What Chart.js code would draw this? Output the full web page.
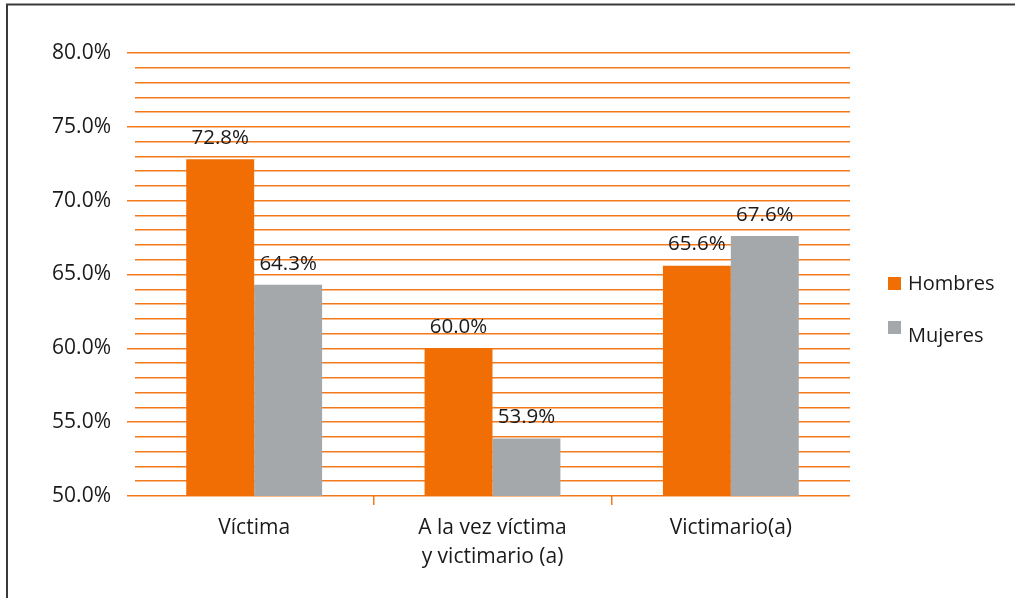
<!DOCTYPE html>
<html><head><meta charset="utf-8">
<script src="https://cdn.jsdelivr.net/npm/chart.js@4/dist/chart.umd.min.js"></script>
<style>html,body{margin:0;padding:0;background:#fff;}#wrap{width:1015px;height:598px;position:relative;}</style>
</head><body><div id="wrap"><canvas id="c" width="1015" height="598"></canvas></div>
<script>
const categories = [["Víctima"], ["A la vez víctima", "y victimario (a)"], ["Victimario(a)"]];
const seriesNames = ["Hombres", "Mujeres"];
const hombres = [72.8, 60.0, 65.6];
const mujeres = [64.3, 53.9, 67.6];
const yMin = 50, yMax = 80, yStep = 1, yLabelStep = 5;

const ORANGE = "#f16e04", GRAY = "#a5a8ab", GRID = "#f27a1c";
const FONT = "'Open Sans', sans-serif";

const frame = {
  id: "frame",
  beforeDraw(chart) {
    const ctx = chart.ctx;
    ctx.save();
    ctx.strokeStyle = "#3a3a3a"; ctx.lineWidth = 2;
    ctx.strokeRect(7, 4.5, 1020, 620);
    ctx.restore();
  }
};
const valueLabels = {
  id: "valueLabels",
  afterDatasetsDraw(chart) {
    const ctx = chart.ctx;
    ctx.save();
    ctx.font = "20.5px " + FONT; ctx.fillStyle = "#1a1a1a";
    ctx.textAlign = "center"; ctx.textBaseline = "middle";
    chart.data.datasets.forEach((ds, i) => {
      chart.getDatasetMeta(i).data.forEach((bar, j) => {
        ctx.fillText(ds.data[j].toFixed(1) + "%", bar.x, bar.y - 21);
      });
    });
    ctx.restore();
  }
};
const sideLegend = {
  id: "sideLegend",
  afterDraw(chart) {
    const ctx = chart.ctx;
    ctx.save();
    ctx.font = "20px " + FONT; ctx.fillStyle = "#1a1a1a";
    ctx.textAlign = "left"; ctx.textBaseline = "middle";
    const rows = [{sq: 277, tx: 284}, {sq: 321, tx: 336}];
    chart.data.datasets.forEach((ds, i) => {
      ctx.fillStyle = ds.backgroundColor;
      ctx.fillRect(888, rows[i].sq, 13, 13);
      ctx.fillStyle = "#1a1a1a";
      ctx.fillText(ds.label, 908, rows[i].tx);
    });
    ctx.restore();
  }
};

new Chart(document.getElementById("c"), {
  type: "bar",
  data: {
    labels: categories,
    datasets: [
      {label: seriesNames[0], data: hombres, backgroundColor: ORANGE},
      {label: seriesNames[1], data: mujeres, backgroundColor: GRAY}
    ]
  },
  options: {
    responsive: false, animation: false,
    layout: {padding: {left: 0, right: 165, top: 53, bottom: 0}},
    categoryPercentage: 0.57, barPercentage: 1.0,
    plugins: {legend: {display: false}, tooltip: {enabled: false}},
    scales: {
      x: {
        offset: true,
        border: {display: false},
        grid: {
          offset: true, drawOnChartArea: false, tickLength: 9, lineWidth: 1.5,
          color: (c) => (c.index >= 1 && c.index <= 2) ? GRID : "transparent"
        },
        ticks: {font: {family: FONT, size: 21, lineHeight: 1.4}, color: "#1a1a1a", padding: 8},
        afterFit(s) { s.height = 102; }
      },
      y: {
        min: yMin, max: yMax,
        border: {display: false},
        grid: {
          color: GRID, lineWidth: 1.5, tickLength: 8,
          tickColor: (c) => (c.tick && c.tick.value % yLabelStep === 0) ? GRID : "transparent"
        },
        ticks: {
          stepSize: yStep, autoSkip: false,
          font: {family: FONT, size: 21}, color: "#1a1a1a", padding: 16,
          callback: (v) => (v % yLabelStep === 0) ? v.toFixed(1) + "%" : ""
        },
        afterFit(s) { s.width = 135; }
      }
    }
  },
  plugins: [frame, valueLabels, sideLegend]
});
</script></body></html>
